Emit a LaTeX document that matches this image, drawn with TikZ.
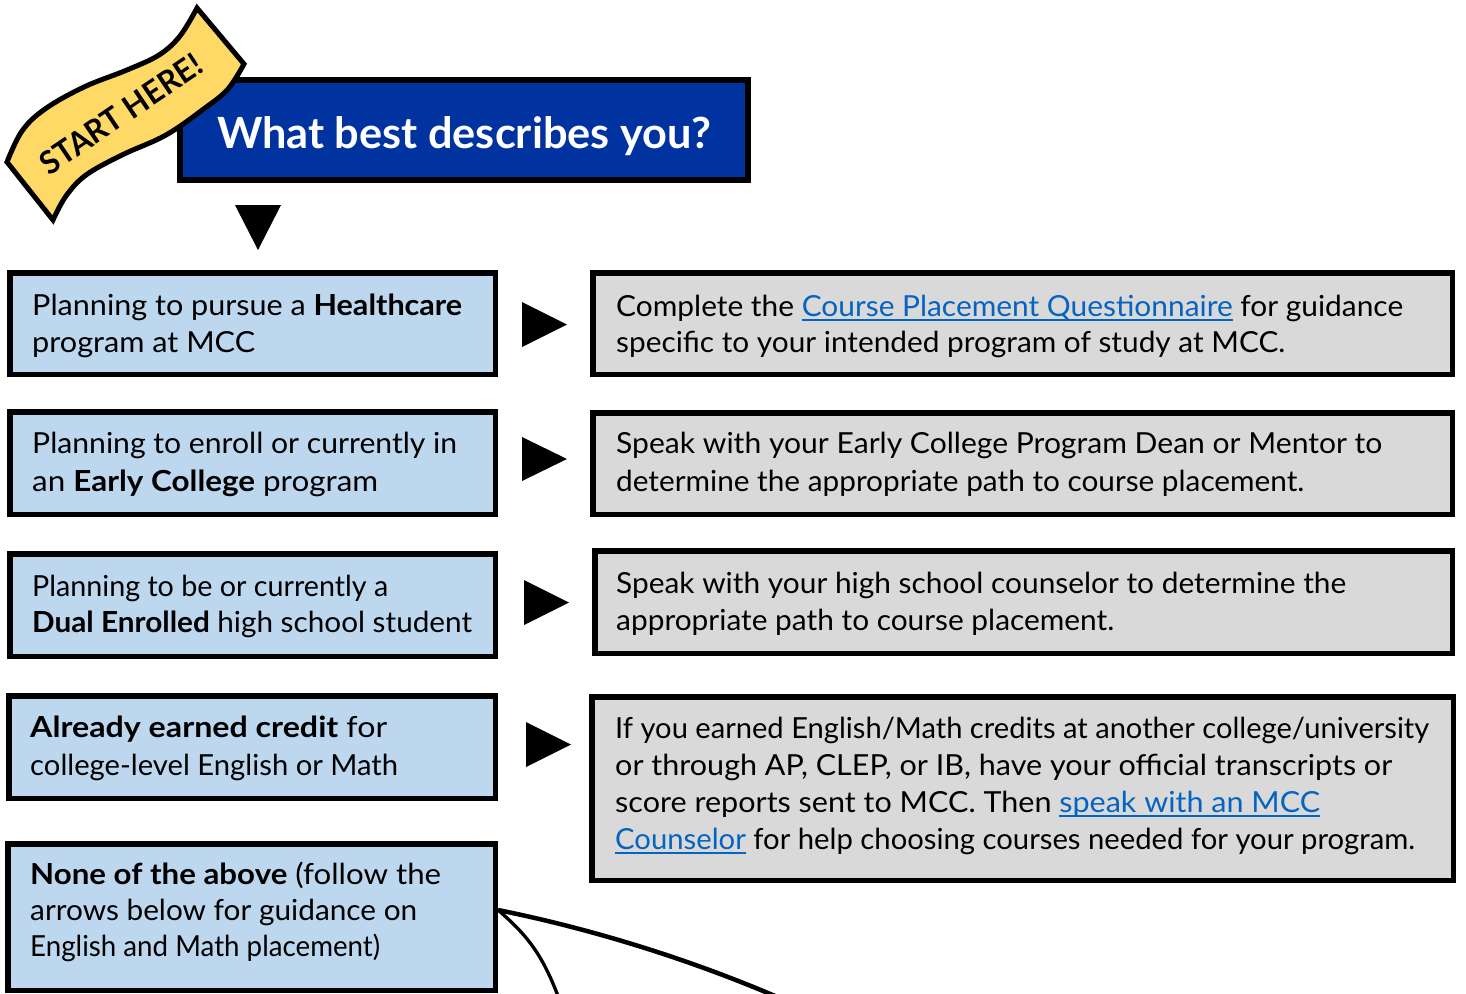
\documentclass[tikz,border=0pt]{standalone}
\usepackage{fontspec}
\setmainfont{Lato}
\usepackage{graphicx}
\usetikzlibrary{calc}
\definecolor{hdrblue}{HTML}{0033A0}
\definecolor{lblue}{HTML}{BDD7EE}
\definecolor{lgrey}{HTML}{D9D9D9}
\definecolor{ribbon}{HTML}{FFD966}
\definecolor{linkblue}{HTML}{0563C1}
\newcommand\fl[2]{\strut\resizebox{#1pt}{\height}{#2}}
\newcommand\lnk[1]{{\color{linkblue}\setbox0\hbox{#1}\rlap{\rule[-4.5pt]{\wd0}{1.8pt}}\box0}}
\tikzset{
  lbox/.style={draw=black, line width=5.5pt, fill=lblue, rectangle, inner sep=0pt, anchor=north west},
  rbox/.style={draw=black, line width=5.5pt, fill=lgrey, rectangle, inner sep=0pt, anchor=north west},
  tx/.style={anchor=north west, inner sep=0pt, align=left, font=\fontsize{29}{#1}\selectfont},
  tri/.style={fill=black},
}
\begin{document}
\begin{tikzpicture}[x=1pt,y=-1pt]
\useasboundingbox (0,0) rectangle (1466,993);
\clip (0,0) rectangle (1466,993);

% header
\node[draw=black, line width=6pt, fill=hdrblue, minimum width=568pt, minimum height=100pt,
      inner sep=0pt, text height=68pt, text depth=32pt, text=white,
      font=\bfseries\fontsize{43}{50}\selectfont] (hdr) at (464,130)
      {\resizebox{494pt}{\height}{What best describes you?}};

% banner
\filldraw[fill=ribbon, draw=black, line width=5pt, line join=miter]
  plot[smooth, tension=0.6] coordinates {(7,162) (22,131) (45,109) (84,87) (127,70) (159,55) (180,36) (197,8)}
  -- plot[smooth, tension=0.6] coordinates {(244,64) (228,89) (205,108) (166,135) (122,155) (86,175) (66,196) (53,220)}
  -- cycle;
\node[rotate=34, inner sep=0pt, font=\bfseries\fontsize{32}{38}\selectfont] (start) at (121,114)
  {\resizebox{188pt}{\height}{START HERE!}};

% down arrow
\fill[tri] (235,205) -- (281,205) -- (258,250) -- cycle;

% left boxes (anchored at their outer corner)
\node[lbox, minimum width=485.5pt, minimum height=101.5pt] (b1) at (7,270) {};
\node[lbox, minimum width=485.5pt, minimum height=102.5pt] (b2) at (7,409) {};
\node[lbox, minimum width=485.5pt, minimum height=102.5pt] (b3) at (7,551) {};
\node[lbox, minimum width=486.5pt, minimum height=102.5pt] (b4) at (6,693) {};
\node[lbox, minimum width=487.5pt, minimum height=146.5pt] (b5) at (5,841) {};

% right boxes
\node[rbox, minimum width=859.5pt, minimum height=101.5pt] (r1) at (590,270) {};
\node[rbox, minimum width=859.5pt, minimum height=101.5pt] (r2) at (590,410) {};
\node[rbox, minimum width=857.5pt, minimum height=102.5pt] (r3) at (592,548) {};
\node[rbox, minimum width=861.5pt, minimum height=183.5pt] (r4) at (589,694) {};

% left texts
\node[tx=37] (b1t) at (32,289.1) {\fl{430}{Planning to pursue a \textbf{Healthcare}}\\\fl{223}{program at MCC}};
\node[tx=38] (b2t) at (32,426.4) {\fl{425}{Planning to enroll or currently in}\\\fl{346}{an \textbf{Early College} program}};
\node[tx=36] (b3t) at (32,570.8) {\fl{356}{Planning to be or currently a}\\\fl{440}{\textbf{Dual Enrolled} high school student}};
\node[tx=38] (b4t) at (30,710.4) {\fl{357}{\textbf{Already earned credit} for}\\\fl{368}{college-level English or Math}};
\node[tx=36] (b5t) at (30,858.8) {\fl{411}{\textbf{None of the above} (follow the}\\\fl{387}{arrows below for guidance on}\\\fl{350}{English and Math placement)}};

% right texts
\node[tx=36] (r1t) at (616,291.3) {\fl{787}{Complete the \lnk{Course Placement Questionnaire} for guidance}\\\fl{669}{specific to your intended program of study at MCC.}};
\node[tx=38] (r2t) at (616,426.4) {\fl{766}{Speak with your Early College Program Dean or Mentor to}\\\fl{688}{determine the appropriate path to course placement.}};
\node[tx=37] (r3t) at (616,567.1) {\fl{730}{Speak with your high school counselor to determine the}\\\fl{498}{appropriate path to course placement.}};
\node[tx=37] (r4t) at (615,712.1) {\fl{814}{If you earned English/Math credits at another college/university}\\\fl{777}{or through AP, CLEP, or IB, have your official transcripts or}\\\fl{705}{score reports sent to MCC. Then \lnk{speak with an MCC}}\\\fl{800}{\lnk{Counselor} for help choosing courses needed for your program.}};

% side arrows
\fill[tri] (522,302) -- (522,347) -- (567,324.5) -- cycle;
\fill[tri] (522,437) -- (522,481) -- (567,459) -- cycle;
\fill[tri] (524,580) -- (524,625) -- (569,602.5) -- cycle;
\fill[tri] (526,722) -- (526,767) -- (571,744.5) -- cycle;

% connectors leaving the picture
\coordinate (endA) at (775,996);
\coordinate (endB) at (558,996);
\draw[line width=4.5pt] ($(b5.east)+(0,-7)$) .. controls (597,930) and (693,961) .. (endA);
\draw[line width=3.3pt] ($(b5.east)+(0,-7)$) .. controls (527,935) and (542,954) .. (endB);
\end{tikzpicture}
\end{document}
